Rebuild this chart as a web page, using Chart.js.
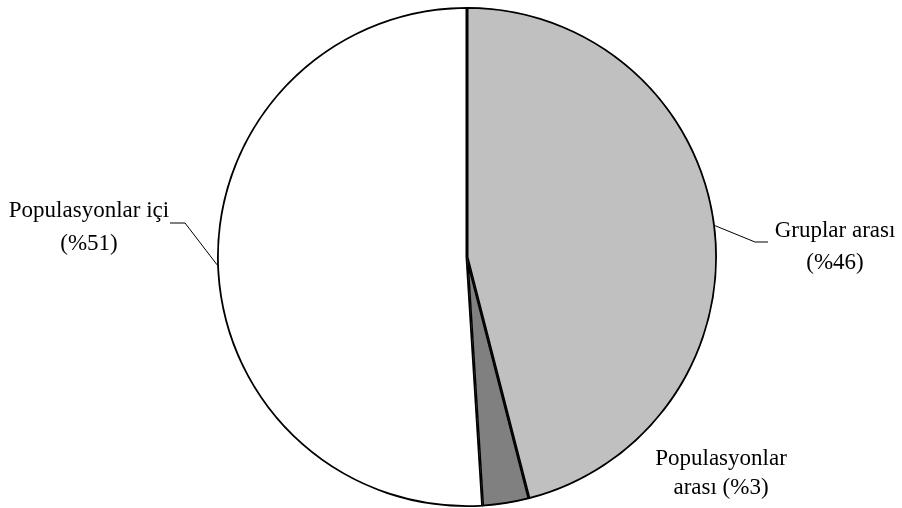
<!DOCTYPE html>
<html>
<head>
<meta charset="utf-8">
<script src="https://cdn.jsdelivr.net/npm/chart.js@4/dist/chart.umd.min.js"></script>
<style>
  html, body { margin: 0; padding: 0; background: #ffffff; }
  #wrap { width: 902px; height: 508px; }
</style>
</head>
<body>
<div id="wrap"><canvas id="c" width="902" height="508"></canvas></div>
<script>
// Variance components (percent)
const categories = ['Gruplar arası', 'Populasyonlar arası', 'Populasyonlar içi'];
const values = [46, 3, 51];
const sliceColors = ['#c0c0c0', '#808080', '#ffffff'];

// Label text lines per slice (last line carries the value)
const labelLines = [
  ['Gruplar arası', '(%' + values[0] + ')'],
  ['Populasyonlar', 'arası (%' + values[1] + ')'],
  ['Populasyonlar içi', '(%' + values[2] + ')']
];

const FONT = '23px "Liberation Serif", "Times New Roman", serif';

// Label placement: text centre x, first/second baselines, and leader elbow (null = no leader)
const labelLayout = [
  { x: 835, y: [237, 269], elbow: { x: 755, y: 242, endX: 768 } },
  { x: 721, y: [465, 494], elbow: null },
  { x: 89,  y: [217, 250], elbow: { x: 185, y: 223, endX: 170 } }
];

const labelsPlugin = {
  id: 'pieLabels',
  afterDatasetsDraw(chart) {
    const ctx = chart.ctx;
    const meta = chart.getDatasetMeta(0);
    ctx.save();
    ctx.font = FONT;
    ctx.fillStyle = '#000000';
    ctx.textAlign = 'center';
    ctx.textBaseline = 'alphabetic';
    meta.data.forEach((arc, i) => {
      const p = arc.getProps(['x', 'y', 'startAngle', 'endAngle', 'outerRadius'], true);
      const mid = (p.startAngle + p.endAngle) / 2;
      const lay = labelLayout[i];
      if (lay.elbow) {
        const sx = p.x + Math.cos(mid) * p.outerRadius;
        const sy = p.y + Math.sin(mid) * p.outerRadius;
        ctx.beginPath();
        ctx.strokeStyle = '#000000';
        ctx.lineWidth = 1;
        ctx.moveTo(sx, sy);
        ctx.lineTo(lay.elbow.x, lay.elbow.y);
        ctx.lineTo(lay.elbow.endX, lay.elbow.y);
        ctx.stroke();
      }
      labelLines[i].forEach((line, k) => {
        ctx.fillText(line, lay.x, lay.y[k]);
      });
    });
    ctx.restore();
  }
};

new Chart(document.getElementById('c'), {
  type: 'pie',
  data: {
    labels: categories,
    datasets: [{
      data: values,
      backgroundColor: sliceColors,
      borderColor: '#000000',
      borderWidth: 1.5,
      borderAlign: 'inner'
    }]
  },
  options: {
    responsive: false,
    animation: false,
    radius: 250,
    layout: { padding: { left: 32, right: 0, top: 7, bottom: 1 } },
    plugins: {
      legend: { display: false },
      tooltip: { enabled: false }
    }
  },
  plugins: [labelsPlugin]
});
</script>
</body>
</html>
